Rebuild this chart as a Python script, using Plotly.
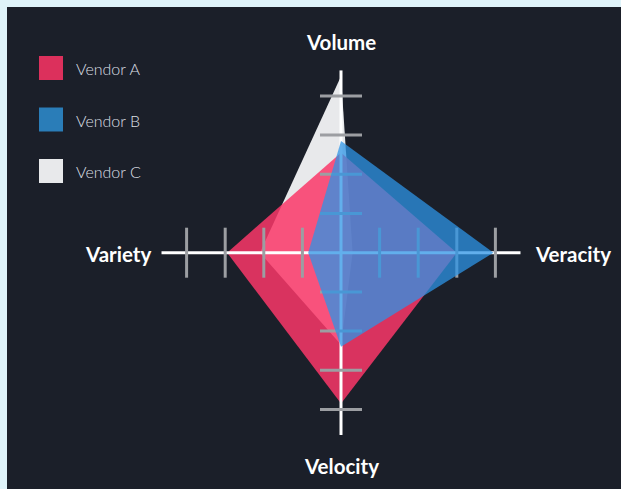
import math
import plotly.graph_objects as go

# ---------------- data ----------------
axis_names = ["Volume", "Veracity", "Velocity", "Variety"]
axis_angles_deg = [90, 0, 270, 180]
vendor_names = ["Vendor A", "Vendor B", "Vendor C"]
vendor_a = [2.55, 3.0, 3.85, 2.95]
vendor_b = [2.85, 3.95, 2.4, 0.85]
vendor_c = [4.5, 0.3, 2.35, 2.1]
tick_values = [1, 2, 3, 4]
axis_extent = 4.65

# ---------------- style ----------------
BG = "#1b1f29"
BORDER = "#dff3f9"
FILL_A = "rgba(250,55,105,0.85)"
FILL_B = "rgba(45,148,230,0.75)"
FILL_C = "#e8e9eb"
LEG_COLORS = ["#dc305c", "#2a7db8", "#e8e9eb"]
TICK_COLOR = "#9c9ea2"
W, H = 621, 489
ML, MT = 7, 7
CX, CY = 341.0, 252.7          # pixel centre of the chart
UX, UY = 38.6, 39.2            # pixels per unit
TICK_HALF_ON_H = 25 / UY       # tick half length (data units) on horizontal axis
TICK_HALF_ON_V = 21 / UX       # tick half length on vertical axis


def to_xy(values):
    xs, ys = [], []
    for r, a in zip(values, axis_angles_deg):
        t = math.radians(a)
        xs.append(round(r * math.cos(t), 6))
        ys.append(round(r * math.sin(t), 6))
    xs.append(xs[0])
    ys.append(ys[0])
    return xs, ys


fig = go.Figure()


def polygon(values, color, name):
    xs, ys = to_xy(values)
    fig.add_trace(go.Scatter(x=xs, y=ys, mode="none", fill="toself",
                             fillcolor=color, name=name, hoverinfo="skip",
                             xaxis="x", yaxis="y"))


# drawing order: C, A, axes, B
polygon(vendor_c, FILL_C, vendor_names[2])
polygon(vendor_a, FILL_A, vendor_names[0])

# axis lines
ax_x, ax_y = [], []
for a in axis_angles_deg:
    t = math.radians(a)
    ax_x += [0, round(axis_extent * math.cos(t), 6), None]
    ax_y += [0, round(axis_extent * math.sin(t), 6), None]
fig.add_trace(go.Scatter(x=ax_x, y=ax_y, mode="lines",
                         line=dict(color="white", width=3),
                         hoverinfo="skip"))

# ticks (perpendicular to each axis)
tk_x, tk_y = [], []
for a in axis_angles_deg:
    t = math.radians(a)
    c, s = round(math.cos(t), 6), round(math.sin(t), 6)
    for v in tick_values:
        px, py = v * c, v * s
        if abs(s) < 0.5:   # horizontal axis -> vertical tick
            tk_x += [px, px, None]
            tk_y += [-TICK_HALF_ON_H, TICK_HALF_ON_H, None]
        else:              # vertical axis -> horizontal tick
            tk_x += [-TICK_HALF_ON_V, TICK_HALF_ON_V, None]
            tk_y += [py, py, None]
fig.add_trace(go.Scatter(x=tk_x, y=tk_y, mode="lines",
                         line=dict(color=TICK_COLOR, width=3),
                         hoverinfo="skip"))

polygon(vendor_b, FILL_B, vendor_names[1])

# ---------------- layout ----------------
x0 = (ML - CX) / UX
x1 = (W - CX) / UX
y1 = (CY - MT) / UY
y0 = (CY - H) / UY

shapes = []
annotations = []
legend_tops = [56, 107.5, 159]
for name, col, top in zip(vendor_names, LEG_COLORS, legend_tops):
    shapes.append(dict(type="rect", xref="x2", yref="y2",
                       x0=39, x1=63, y0=top, y1=top + 24,
                       fillcolor=col, line=dict(width=0), layer="above"))
    annotations.append(dict(xref="x2", yref="y2", x=74, y=top + 12.5,
                            text=name, showarrow=False, xanchor="left",
                            yanchor="middle",
                            font=dict(family="Lato", size=16, color="#dcdfe4",
                                      weight=300)))

label_font = dict(family="Lato", size=20.5, color="white", weight="bold")
label_pos = {
    "Volume": dict(x=341, y=42, xanchor="center"),
    "Veracity": dict(x=533, y=254, xanchor="left"),
    "Velocity": dict(x=341, y=466, xanchor="center"),
    "Variety": dict(x=153, y=254, xanchor="right"),
}
for name in axis_names:
    p = label_pos[name]
    annotations.append(dict(xref="x2", yref="y2", x=p["x"], y=p["y"],
                            xanchor=p["xanchor"], yanchor="middle",
                            text=name, showarrow=False, font=label_font))

fig.update_layout(
    width=W, height=H,
    margin=dict(l=ML, t=MT, r=0, b=0, pad=0),
    paper_bgcolor=BORDER, plot_bgcolor=BG,
    showlegend=False,
    xaxis=dict(range=[x0, x1], visible=False, fixedrange=True),
    yaxis=dict(range=[y0, y1], visible=False, fixedrange=True),
    xaxis2=dict(range=[ML, W], overlaying="x", visible=False, fixedrange=True),
    yaxis2=dict(range=[H, MT], overlaying="y", anchor="x2", visible=False,
                fixedrange=True),
    shapes=shapes,
    annotations=annotations,
)
# invisible trace so that the pixel-space overlay axes exist
fig.add_trace(go.Scatter(x=[ML], y=[MT], xaxis="x2", yaxis="y2",
                         mode="markers", marker=dict(opacity=0),
                         hoverinfo="skip"))

fig.write_html("out.html", config={"displayModeBar": False},
               post_script="document.body.style.margin='0';"
                           "document.body.style.overflow='hidden';")
